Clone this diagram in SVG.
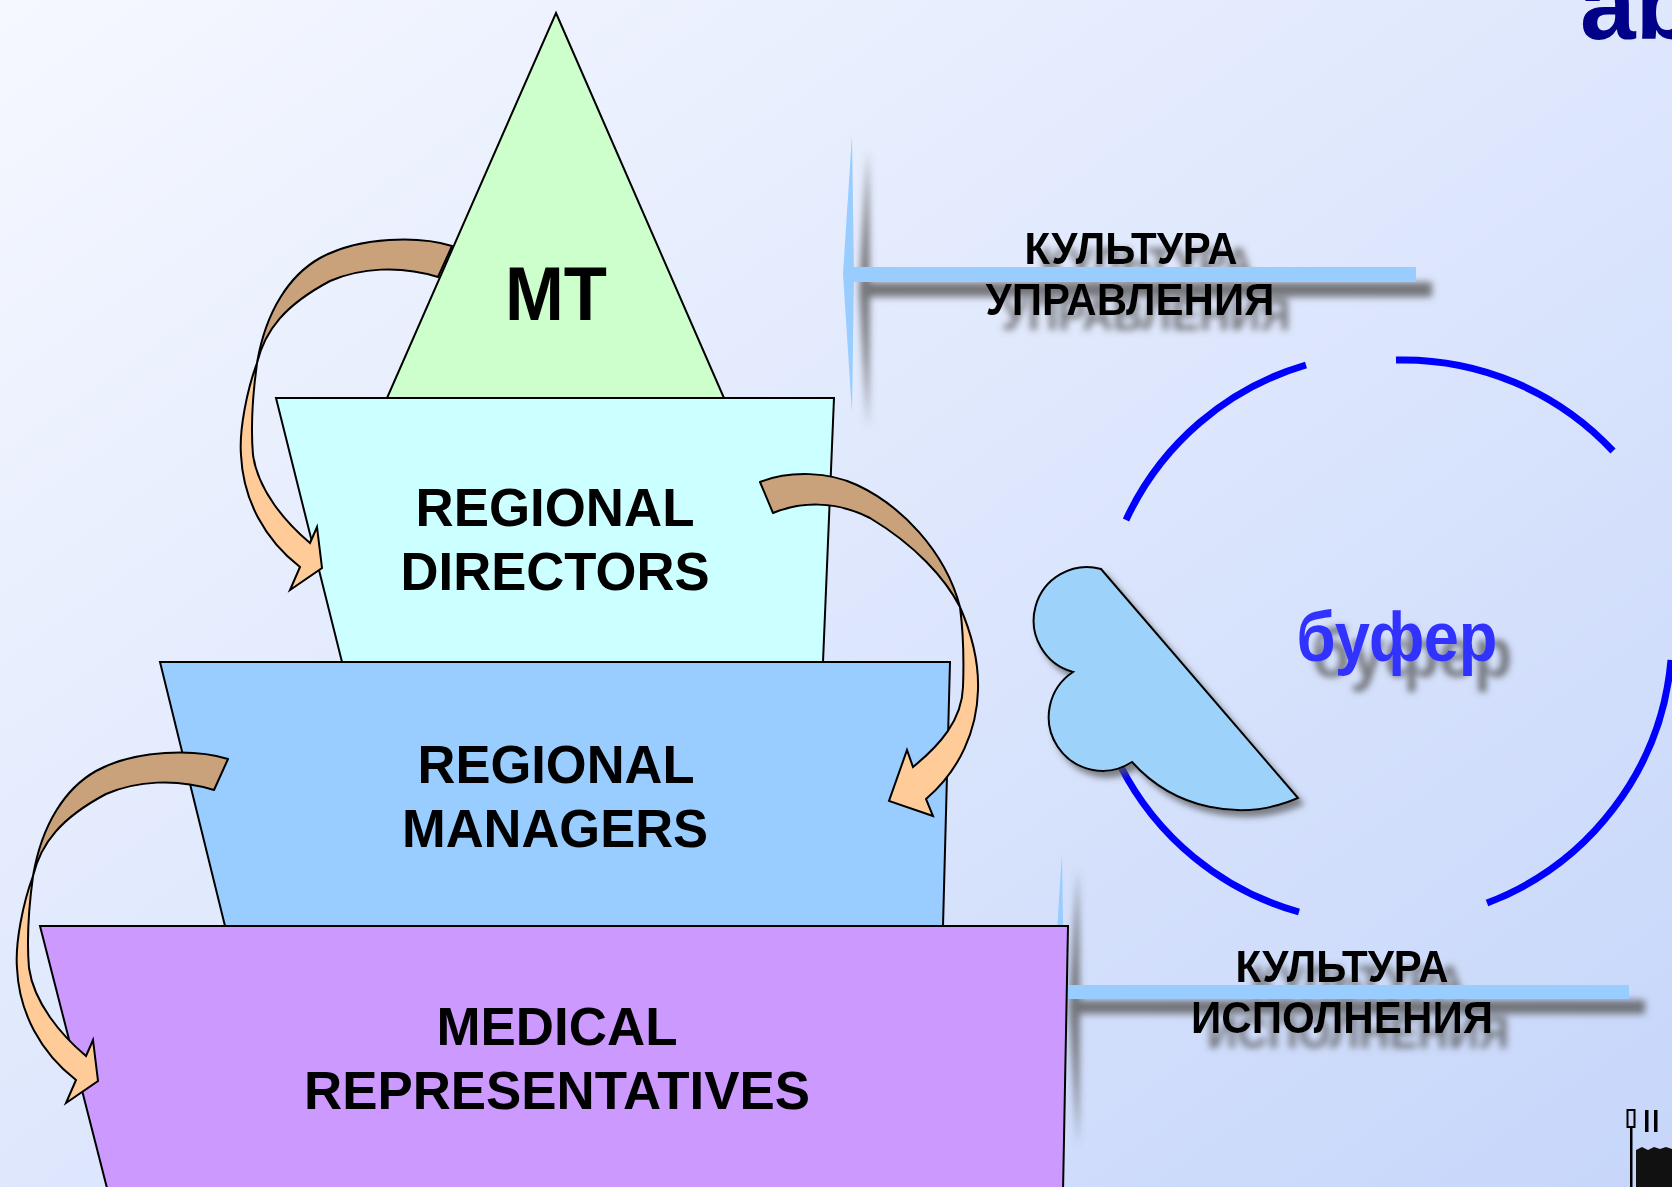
<svg xmlns="http://www.w3.org/2000/svg" width="1672" height="1187" viewBox="0 0 1672 1187">
<defs>
<linearGradient id="bg" x1="0" y1="0" x2="1" y2="1">
<stop offset="0" stop-color="#F6F8FF"/>
<stop offset="1" stop-color="#C6D6FA"/>
</linearGradient>
<filter id="lineShadow" filterUnits="userSpaceOnUse" x="0" y="0" width="1672" height="1187">
<feGaussianBlur in="SourceAlpha" stdDeviation="3.5"/>
<feOffset dx="16" dy="15" result="b"/>
<feFlood flood-color="#5a5a5a" flood-opacity="0.8"/>
<feComposite in2="b" operator="in"/>
<feMerge><feMergeNode/><feMergeNode in="SourceGraphic"/></feMerge>
</filter>
<filter id="textShadow" filterUnits="userSpaceOnUse" x="0" y="0" width="1672" height="1187">
<feGaussianBlur in="SourceAlpha" stdDeviation="3"/>
<feOffset dx="15" dy="16" result="b"/>
<feFlood flood-color="#5a5a5a" flood-opacity="0.75"/>
<feComposite in2="b" operator="in"/>
<feMerge><feMergeNode/><feMergeNode in="SourceGraphic"/></feMerge>
</filter>
<filter id="cloudShadow" filterUnits="userSpaceOnUse" x="0" y="0" width="1672" height="1187">
<feGaussianBlur in="SourceAlpha" stdDeviation="3"/>
<feOffset dx="5" dy="6" result="b"/>
<feFlood flood-color="#555" flood-opacity="0.7"/>
<feComposite in2="b" operator="in"/>
<feMerge><feMergeNode/><feMergeNode in="SourceGraphic"/></feMerge>
</filter>
<style>
.shape{stroke:#000;stroke-width:2;stroke-linejoin:miter}
.lbl{font-family:"Liberation Sans",Arial,sans-serif;font-weight:bold;text-anchor:middle;fill:#000}
.ru{font-family:"Liberation Sans",Arial,sans-serif;font-weight:bold;text-anchor:middle;font-size:44px;fill:#000}
.line{fill:#99CCFF}
.arc{fill:none;stroke:#0000FF;stroke-width:7}
.back{fill:#C9A27B;stroke:#000;stroke-width:2;stroke-linejoin:round}
.front{fill:#FFCC99;stroke:#000;stroke-width:2;stroke-linejoin:miter}
</style>
</defs>

<rect x="0" y="0" width="1672" height="1187" fill="url(#bg)"/>

<g id="title-fragment">
<text x="1580" y="39" font-family="'Liberation Sans',Arial,sans-serif" font-weight="bold" font-size="100" fill="#000088">ab</text>
</g>

<g id="culture-management" filter="url(#lineShadow)">
<polygon class="line" points="852,135 854,274 852,413 843,274"/>
<rect class="line" x="848" y="267" width="568" height="15"/>
<text class="ru" x="1131" y="264" textLength="213" lengthAdjust="spacingAndGlyphs">КУЛЬТУРА</text>
<text class="ru" x="1130" y="315" textLength="289" lengthAdjust="spacingAndGlyphs">УПРАВЛЕНИЯ</text>
</g>

<g id="culture-execution" filter="url(#lineShadow)">
<polygon class="line" points="1062,853 1064,992 1062,1131 1053,992"/>
<rect class="line" x="1058" y="985" width="571" height="14"/>
<text class="ru" x="1342" y="982" textLength="213" lengthAdjust="spacingAndGlyphs">КУЛЬТУРА</text>
<text class="ru" x="1342" y="1033" textLength="302" lengthAdjust="spacingAndGlyphs">ИСПОЛНЕНИЯ</text>
</g>

<g id="buffer-circle">
<path class="arc" d="M1126,520 A287,287 0 0 1 1306,365"/>
<path class="arc" d="M1396,360 A287,287 0 0 1 1613,451"/>
<path class="arc" d="M1671,660 A287,287 0 0 1 1487,903"/>
<path class="arc" d="M1299,912 A287,287 0 0 1 1120,765"/>
</g>

<g id="cloud">
<path d="M1101,569 L1298,798 A145,145 0 0 1 1132,762 A53,53 0 0 1 1073,672 A53,53 0 0 1 1101,569 Z" fill="#9DD3FB" stroke="#000" stroke-width="2" filter="url(#cloudShadow)"/>
</g>

<g id="buffer">
<text x="1397" y="661" font-family="'Liberation Sans',Arial,sans-serif" font-weight="bold" font-size="71" text-anchor="middle" textLength="201" lengthAdjust="spacingAndGlyphs" fill="#3333FF" filter="url(#textShadow)">буфер</text>
</g>

<g id="mt">
<polygon class="shape" points="556,13 724,398 387,398" fill="#CCFFCC"/>
<text class="lbl" x="556" y="320" font-size="76" textLength="102" lengthAdjust="spacingAndGlyphs">MT</text>
</g>

<g id="regional-directors">
<polygon class="shape" points="276,398 834,398 823,662 342,662" fill="#CCFFFF"/>
<text class="lbl" x="555" y="526" font-size="54" textLength="279" lengthAdjust="spacingAndGlyphs">REGIONAL</text>
<text class="lbl" x="555" y="590" font-size="54" textLength="309" lengthAdjust="spacingAndGlyphs">DIRECTORS</text>
</g>

<g id="regional-managers">
<polygon class="shape" points="160,662 950,662 943,926 225,926" fill="#99CCFF"/>
<text class="lbl" x="556" y="783" font-size="54" textLength="277" lengthAdjust="spacingAndGlyphs">REGIONAL</text>
<text class="lbl" x="555" y="847" font-size="54" textLength="306" lengthAdjust="spacingAndGlyphs">MANAGERS</text>
</g>

<g id="medical-representatives">
<polygon class="shape" points="40,926 1068,926 1063,1192 108,1192" fill="#CC99FF"/>
<text class="lbl" x="557" y="1045" font-size="54" textLength="241" lengthAdjust="spacingAndGlyphs">MEDICAL</text>
<text class="lbl" x="557" y="1109" font-size="54" textLength="506" lengthAdjust="spacingAndGlyphs">REPRESENTATIVES</text>
</g>

<g id="connectors">
<g id="arrow-mt-rd">
<path class="back" d="M452,246 C420,236 360,236 320,258 C290,275 266,310 257,363 C265,330 285,305 330,281 C360,268 400,265 438,277 Z"/>
<path class="front" d="M257,363 C247,390 239,430 241,455 C243,500 265,540 300,567 L290,590 L322,568 L317,527 L310,543 C285,522 258,490 253,455 C250,420 254,385 257,363 Z"/>
</g>
<g id="arrow-rd-rm">
<path class="back" d="M760,482 C790,470 830,472 857,485 C900,505 945,550 960,607 C945,578 915,545 870,518 C835,500 800,502 773,513 Z"/>
<path class="front" d="M960,607 C970,630 979,660 978,690 C977,730 960,770 926,799 L933,816 L889,801 L907,750 L913,767 C940,745 962,720 963,687 C964,660 963,630 960,607 Z"/>
</g>
<g id="arrow-rm-mr" transform="translate(-224,513)">
<path class="back" d="M452,246 C420,236 360,236 320,258 C290,275 266,310 257,363 C265,330 285,305 330,281 C360,268 400,265 438,277 Z"/>
<path class="front" d="M257,363 C247,390 239,430 241,455 C243,500 265,540 300,567 L290,590 L322,568 L317,527 L310,543 C285,522 258,490 253,455 C250,420 254,385 257,363 Z"/>
</g>
</g>

<g id="corner-mark">
<rect x="1627.5" y="1110" width="7" height="17" fill="none" stroke="#000" stroke-width="2"/>
<rect x="1645" y="1110" width="3.5" height="22" fill="#000"/>
<rect x="1654" y="1110" width="3.5" height="22" fill="#000"/>
<rect x="1630" y="1127" width="2.5" height="60" fill="#000"/>
<path d="M1636,1150 L1642,1147 L1648,1150 L1654,1147 L1660,1149 L1666,1147 L1672,1149 L1672,1187 L1636,1187 Z" fill="#111"/>
</g>
</svg>
